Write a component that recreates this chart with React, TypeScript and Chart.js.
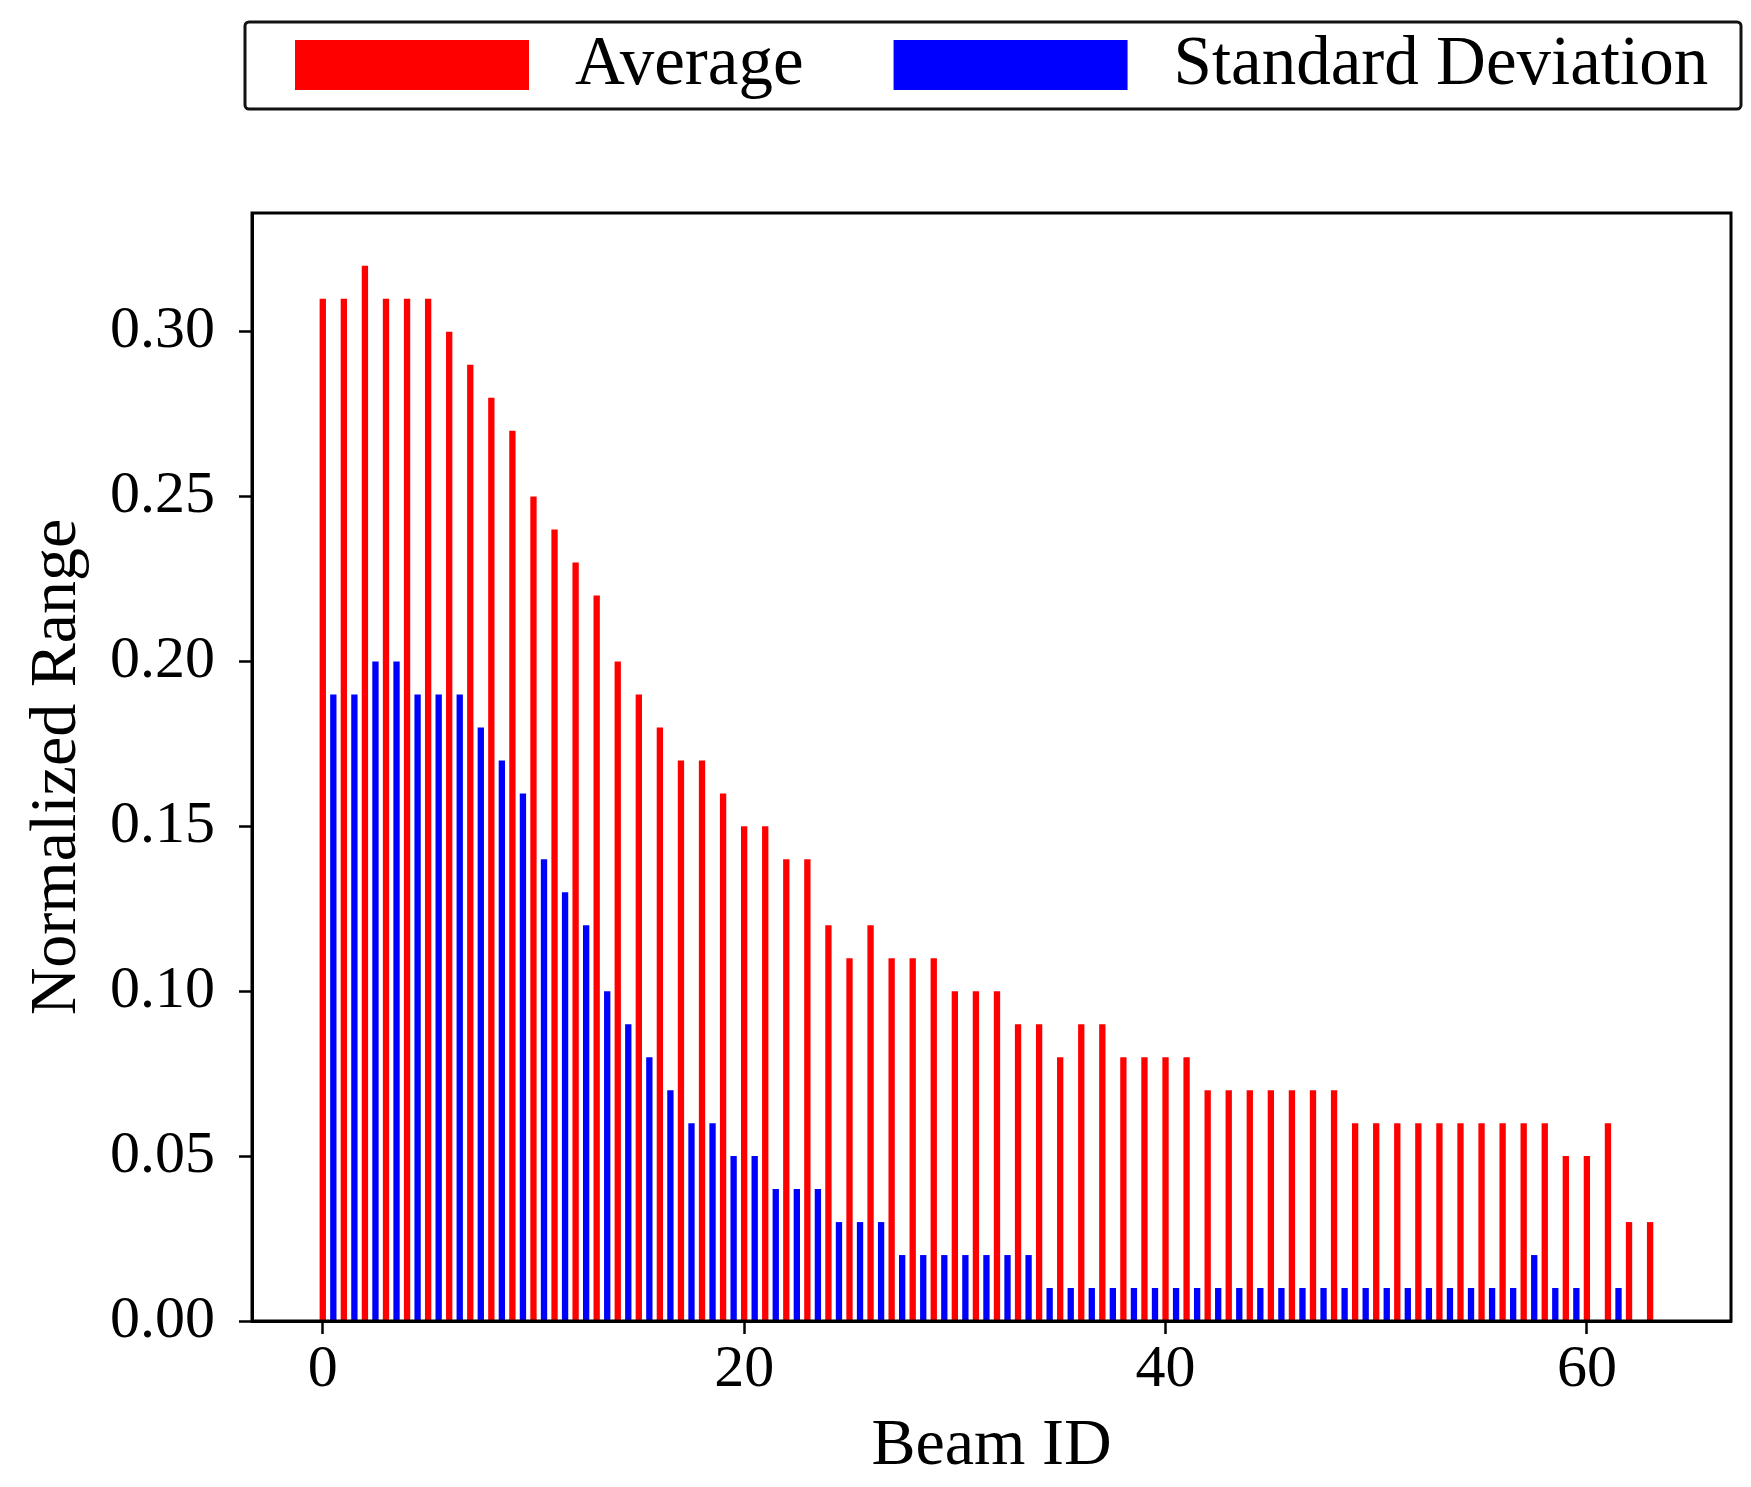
import { useEffect, useRef } from 'react';
import { Chart, registerables } from 'chart.js';

Chart.register(...registerables);

// beam index 0..63
const beamIds = [
  0, 1, 2, 3, 4, 5, 6, 7, 8, 9, 10, 11, 12, 13, 14, 15,
  16, 17, 18, 19, 20, 21, 22, 23, 24, 25, 26, 27, 28, 29, 30, 31,
  32, 33, 34, 35, 36, 37, 38, 39, 40, 41, 42, 43, 44, 45, 46, 47,
  48, 49, 50, 51, 52, 53, 54, 55, 56, 57, 58, 59, 60, 61, 62, 63,
];

const averageRange = [
  0.31, 0.31, 0.32, 0.31, 0.31, 0.31, 0.30, 0.29, 0.28, 0.27, 0.25, 0.24, 0.23, 0.22, 0.20, 0.19,
  0.18, 0.17, 0.17, 0.16, 0.15, 0.15, 0.14, 0.14, 0.12, 0.11, 0.12, 0.11, 0.11, 0.11, 0.10, 0.10,
  0.10, 0.09, 0.09, 0.08, 0.09, 0.09, 0.08, 0.08, 0.08, 0.08, 0.07, 0.07, 0.07, 0.07, 0.07, 0.07,
  0.07, 0.06, 0.06, 0.06, 0.06, 0.06, 0.06, 0.06, 0.06, 0.06, 0.06, 0.05, 0.05, 0.06, 0.03, 0.03,
];

const stdRange = [
  0.19, 0.19, 0.20, 0.20, 0.19, 0.19, 0.19, 0.18, 0.17, 0.16, 0.14, 0.13, 0.12, 0.10, 0.09, 0.08,
  0.07, 0.06, 0.06, 0.05, 0.05, 0.04, 0.04, 0.04, 0.03, 0.03, 0.03, 0.02, 0.02, 0.02, 0.02, 0.02,
  0.02, 0.02, 0.01, 0.01, 0.01, 0.01, 0.01, 0.01, 0.01, 0.01, 0.01, 0.01, 0.01, 0.01, 0.01, 0.01,
  0.01, 0.01, 0.01, 0.01, 0.01, 0.01, 0.01, 0.01, 0.01, 0.02, 0.01, 0.01, 0.00, 0.01, 0.00, 0.00,
];

const seriesLabels = ['Average', 'Standard Deviation'];
const xTickValues = [0, 20, 40, 60];
const yTickValues = [0, 0.05, 0.1, 0.15, 0.2, 0.25, 0.3];

// std bars sit half a beam to the right of the average bars
const STD_OFFSET = 0.5;

const SERIF = '"Liberation Serif", "Times New Roman", serif';

// matplotlib-style boxed legend above the axes
const boxedLegend = {
  id: 'boxedLegend',
  afterDraw(chart: any) {
    const { ctx, chartArea } = chart;
    const left = chartArea.left - 7;
    const right = chart.width - 10;
    const top = 22;
    const bottom = 109;
    ctx.save();
    ctx.lineWidth = 3;
    ctx.strokeStyle = '#111';
    ctx.beginPath();
    ctx.roundRect(left, top, right - left, bottom - top, 4);
    ctx.stroke();

    ctx.font = `69px ${SERIF}`;
    ctx.textBaseline = 'alphabetic';
    let x = left + 50;
    chart.data.datasets.forEach((ds: any) => {
      ctx.fillStyle = ds.backgroundColor;
      ctx.fillRect(x, 40, 234, 50);
      x += 234 + 46;
      ctx.fillStyle = '#000';
      ctx.fillText(ds.label, x, 84);
      x += ctx.measureText(ds.label).width + 90;
    });
    ctx.restore();
  },
};

// full frame around the plot area (top and right spines too)
const axesFrame = {
  id: 'axesFrame',
  afterDatasetsDraw(chart: any) {
    const { ctx, chartArea } = chart;
    ctx.save();
    ctx.lineWidth = 3;
    ctx.strokeStyle = '#000';
    ctx.strokeRect(
      chartArea.left,
      chartArea.top,
      chartArea.right - chartArea.left,
      chartArea.bottom - chartArea.top
    );
    ctx.restore();
  },
};

export default function App() {
  const canvasRef = useRef<HTMLCanvasElement>(null);
  const chartRef = useRef<Chart | null>(null);

  useEffect(() => {
    if (!canvasRef.current) return;
    const ctx = canvasRef.current.getContext('2d');
    if (!ctx) return;

    if (chartRef.current) {
      chartRef.current.destroy();
    }

    chartRef.current = new Chart(ctx, {
      type: 'bar',
      data: {
        datasets: [
          {
            label: seriesLabels[0],
            data: beamIds.map((id, i) => ({ x: id, y: averageRange[i] })),
            backgroundColor: '#ff0000',
            borderWidth: 0,
          },
          {
            label: seriesLabels[1],
            data: beamIds.map((id, i) => ({ x: id + STD_OFFSET, y: stdRange[i] })),
            backgroundColor: '#0000ff',
            borderWidth: 0,
          },
        ],
      },
      options: {
        animation: false,
        responsive: true,
        maintainAspectRatio: false,
        events: [],
        grouped: false,
        categoryPercentage: 1,
        barPercentage: 0.6,
        layout: {
          padding: { top: 213, right: 20, left: 0, bottom: 0 },
        },
        scales: {
          x: {
            type: 'linear',
            offset: false,
            min: -3.36,
            max: 66.84,
            afterFit: (scale: any) => {
              scale.height = 166;
            },
            afterBuildTicks: (scale: any) => {
              scale.ticks = xTickValues.map((v) => ({ value: v }));
            },
            ticks: {
              color: '#000',
              padding: 0,
              maxRotation: 0,
              font: { family: SERIF, size: 60 },
              callback: (v: any) => String(v),
            },
            grid: {
              offset: false,
              drawOnChartArea: false,
              drawTicks: true,
              tickLength: 13,
              tickWidth: 2.5,
              tickColor: '#000',
            },
            border: { display: true, color: '#000', width: 3 },
            title: {
              display: true,
              text: 'Beam ID',
              color: '#000',
              font: { family: SERIF, size: 66, lineHeight: 1 },
              padding: { top: 0, bottom: 7 },
            },
          },
          y: {
            type: 'linear',
            min: 0,
            max: 0.336,
            afterFit: (scale: any) => {
              scale.width = 252;
            },
            afterBuildTicks: (scale: any) => {
              scale.ticks = yTickValues.map((v) => ({ value: v }));
            },
            ticks: {
              color: '#000',
              padding: 24,
              font: { family: SERIF, size: 60 },
              callback: (v: any) => Number(v).toFixed(2),
            },
            grid: {
              drawOnChartArea: false,
              drawTicks: true,
              tickLength: 13,
              tickWidth: 2.5,
              tickColor: '#000',
            },
            border: { display: true, color: '#000', width: 3 },
            title: {
              display: true,
              text: 'Normalized Range',
              color: '#000',
              font: { family: SERIF, size: 66 },
              padding: { top: 18, bottom: 0 },
            },
          },
        },
        plugins: {
          legend: { display: false },
          tooltip: { enabled: false },
        },
      } as any,
      plugins: [axesFrame, boxedLegend],
    });

    return () => {
      if (chartRef.current) {
        chartRef.current.destroy();
        chartRef.current = null;
      }
    };
  }, []);

  return (
    <div
      style={{
        position: 'fixed',
        left: 0,
        top: 0,
        width: 1751,
        height: 1487,
        background: '#fff',
      }}
    >
      <canvas ref={canvasRef} />
    </div>
  );
}
